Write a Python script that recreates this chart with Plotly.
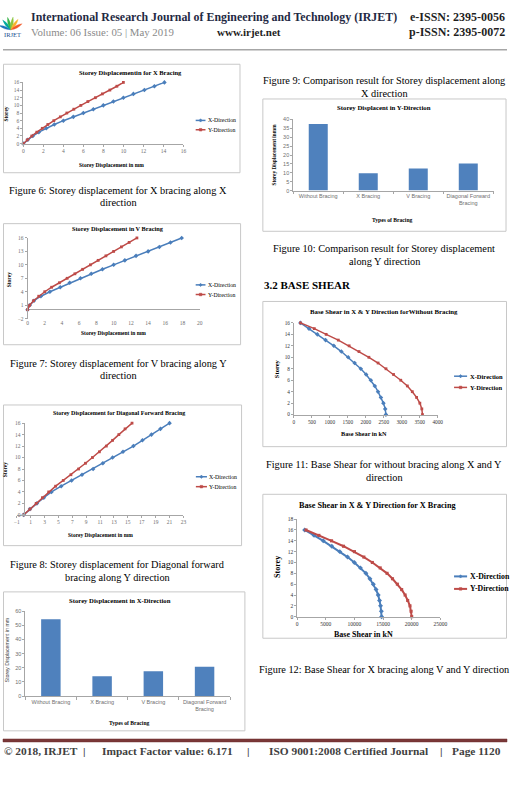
import math
import plotly.graph_objects as go

W, H = 514, 805
SERIF = "Liberation Serif"
SANS = "Liberation Sans"
BLUE = "#4A7EBB"
RED = "#BE4B48"
BAR = "#4F81BD"
TICK_GRAY = "#6F6F6F"
AXIS_LINE = "#A6A6A6"
BOX = "#C8C8C8"

# ---------------- data ----------------
storeys = list(range(17))

# Fig 6: storey displacement (mm), X bracing
fig6_xdir = [0, 0.45, 0.95, 1.55, 2.3, 3.1, 4.0, 5.0, 6.0, 7.0, 8.0, 9.0, 10.0, 11.0, 12.1, 13.1, 14.1]
fig6_ydir = [0, 0.4, 0.85, 1.35, 1.9, 2.45, 3.05, 3.7, 4.35, 5.05, 5.75, 6.45, 7.2, 7.9, 8.65, 9.35, 10.0]

# Fig 7: storey displacement (mm), V bracing
fig7_xdir = [0, 0.26, 0.75, 1.55, 2.6, 3.8, 4.9, 6.15, 7.4, 8.7, 10.0, 11.3, 12.6, 14.0, 15.3, 16.6, 17.9]
fig7_ydir = [0, 0.25, 0.7, 1.3, 2.0, 2.8, 3.7, 4.6, 5.5, 6.4, 7.3, 8.2, 9.1, 10.0, 10.9, 11.8, 12.7]

# Fig 8: storey displacement (mm), diagonal forward bracing
fig8_xdir = [0, 0.9, 1.9, 2.9, 4.0, 5.4, 6.9, 8.4, 10.0, 11.4, 12.8, 14.3, 15.8, 17.1, 18.4, 19.7, 21.0]
fig8_ydir = [0, 0.9, 1.8, 2.7, 3.6, 4.6, 5.7, 6.8, 7.9, 8.9, 9.9, 10.9, 11.9, 12.8, 13.7, 14.6, 15.6]

# Fig 9 / 10: comparison bars
bracing_types = ["Without Bracing", "X Bracing", "V Bracing", "Diagonal Forward<br>Bracing"]
disp_x_dir = [54.2, 14.0, 17.5, 20.8]
disp_y_dir = [37.5, 9.7, 12.4, 15.2]

# Fig 11: base shear (kN), without bracing
bs_wo_xdir = [2560, 2540, 2490, 2420, 2340, 2250, 2140, 2010, 1860, 1690, 1510, 1320, 1110, 880, 650, 420, 180]
bs_wo_ydir = [3577, 3559, 3504, 3413, 3294, 3156, 2973, 2772, 2562, 2342, 2086, 1811, 1537, 1235, 897, 567, 183]

# Fig 12: base shear (kN), X bracing
bs_xb_xdir = [14750, 14700, 14560, 14380, 14150, 13780, 13300, 12700, 12000, 11050, 9990, 8800, 7450, 6050, 4550, 2950, 1310]
bs_xb_ydir = [20000, 19900, 19700, 19300, 18850, 18250, 17500, 16650, 15700, 14500, 13130, 11650, 10000, 8100, 6000, 3800, 1540]


# ---------------- helpers ----------------
def px(x):
    return x / W


def py(y):
    return 1 - y / H


annotations = []
shapes = []
layout_axes = {}


def text(x, y, s, size, color="#000000", family=SERIF, bold=False, xanchor="center", angle=0):
    annotations.append(dict(
        x=px(x), y=py(y), xref="paper", yref="paper",
        text=f"<b>{s}</b>" if bold else s, showarrow=False,
        xanchor=xanchor, yanchor="middle", textangle=angle,
        font=dict(family=family, size=size, color=color), borderpad=0))


def rect(x0, top, x1, bottom, line=BOX, fill="rgba(0,0,0,0)", width=1):
    shapes.append(dict(type="rect", xref="paper", yref="paper",
                       x0=px(x0), x1=px(x1), y0=py(bottom), y1=py(top),
                       line=dict(color=line, width=width), fillcolor=fill))


def hline(x0, x1, y, color, width):
    shapes.append(dict(type="line", xref="paper", yref="paper",
                       x0=px(x0), x1=px(x1), y0=py(y), y1=py(y),
                       line=dict(color=color, width=width)))


def legend_entry(x0, x1, y, color, symbol, label, size, bold=False, lw=1.5):
    hline(x0, x1, y, color, lw)
    cx = (x0 + x1) / 2
    r = 1.7
    if symbol == "diamond":
        path = (f"M{px(cx - r)},{py(y)} L{px(cx)},{py(y - r)} "
                f"L{px(cx + r)},{py(y)} L{px(cx)},{py(y + r)} Z")
        shapes.append(dict(type="path", xref="paper", yref="paper", path=path,
                           fillcolor=color, line=dict(color=color, width=0.5)))
    else:
        rect(cx - 1.3, y - 1.3, cx + 1.3, y + 1.3, line=color, fill=color, width=0.5)
    text(x1 + 1.5, y, label, size, bold=bold, xanchor="left")


def axref(i, letter):
    return letter if i == 1 else f"{letter}{i}"


def axkey(i, letter):
    return f"{letter}axis" if i == 1 else f"{letter}axis{i}"


def num_axes(i, xdom, ydom, xrange, yrange, xdtick, ydtick, xtick0=None, ytick0=None,
             tfsize=5.5, tfcolor=TICK_GRAY, yzero=False, xline=True, yposition=None):
    tf = dict(family=SERIF, size=tfsize, color=tfcolor)
    xa = dict(domain=[px(xdom[0]), px(xdom[1])], range=xrange, autorange=False,
              tickmode="linear", dtick=xdtick, tick0=xtick0 if xtick0 is not None else xrange[0],
              tickformat="d", tickangle=0,
              showline=xline, linecolor=AXIS_LINE, linewidth=0.8,
              ticks="outside" if xline else "", ticklen=2, tickcolor=AXIS_LINE,
              showgrid=False, zeroline=False, tickfont=tf, anchor=axref(i, "y"),
              fixedrange=True)
    ya = dict(domain=[py(ydom[1]), py(ydom[0])], range=yrange, autorange=False,
              tickmode="linear", dtick=ydtick, tick0=ytick0 if ytick0 is not None else yrange[0],
              tickformat="d",
              showline=True, linecolor=AXIS_LINE, linewidth=0.8,
              ticks="outside", ticklen=2, tickcolor=AXIS_LINE,
              showgrid=False, zeroline=yzero, zerolinecolor=AXIS_LINE, zerolinewidth=0.8,
              tickfont=tf, anchor=axref(i, "x"), fixedrange=True)
    if yposition is not None:
        ya["anchor"] = "free"
        ya["position"] = px(yposition)
    layout_axes[axkey(i, "x")] = xa
    layout_axes[axkey(i, "y")] = ya


def bar_axes(i, xdom, ydom, yrange, ydtick):
    tf = dict(family=SANS, size=5.5, color=TICK_GRAY)
    layout_axes[axkey(i, "x")] = dict(
        domain=[px(xdom[0]), px(xdom[1])], type="category", range=[-0.5, 3.5],
        showline=True, linecolor=AXIS_LINE, linewidth=0.8, ticks="outside",
        tickson="boundaries", ticklen=3, tickcolor=AXIS_LINE, showgrid=False,
        tickangle=0, tickfont=tf, anchor=axref(i, "y"), fixedrange=True)
    layout_axes[axkey(i, "y")] = dict(
        domain=[py(ydom[1]), py(ydom[0])], range=yrange, autorange=False,
        tickmode="linear", tick0=0, dtick=ydtick, showline=True, linecolor=AXIS_LINE,
        linewidth=0.8, ticks="outside", ticklen=2, tickcolor=AXIS_LINE,
        showgrid=False, zeroline=False, tickfont=tf, anchor=axref(i, "x"), fixedrange=True)


fig = go.Figure()


def add_pair(i, xs_blue, xs_red, ys, lw=1.5, ms=3.5):
    fig.add_trace(go.Scatter(x=xs_blue, y=ys, mode="lines+markers", name="X-Direction",
                             line=dict(color=BLUE, width=lw),
                             marker=dict(symbol="diamond", size=ms, color=BLUE),
                             xaxis=axref(i, "x"), yaxis=axref(i, "y"), cliponaxis=False))
    fig.add_trace(go.Scatter(x=xs_red, y=ys, mode="lines+markers", name="Y-Direction",
                             line=dict(color=RED, width=lw),
                             marker=dict(symbol="square", size=ms - 0.7, color=RED),
                             xaxis=axref(i, "x"), yaxis=axref(i, "y"), cliponaxis=False))


# ---------------- Chart 1: Fig 6 ----------------
num_axes(1, (20.7, 184), (80, 141.7), [0, 16], [0, 16], 2, 2)
add_pair(1, fig6_xdir, fig6_ydir, storeys)
rect(0.5, 61.7, 241.7, 171)
text(130, 70, "Storey Displacementin for X Bracing", 6.5, bold=True)
text(3.5, 112, "Storey", 5.5, bold=True, angle=-90)
text(111, 163, "Storey Displacement in mm", 5.5, bold=True)
legend_entry(196.5, 206.5, 118.3, BLUE, "diamond", "X-Direction", 5.8)
legend_entry(196.5, 206.5, 127.7, RED, "square", "Y-Direction", 5.8)
text(117.5, 189, "Figure 6: Storey displacement for X bracing along X", 10.3)
text(117.5, 201.5, "direction", 10.3)

# ---------------- Chart 2: Fig 7 ----------------
num_axes(2, (25, 200.7), (236.7, 318), [0, 20], [-2, 16], 2, 3, yzero=True, xline=False)
add_pair(2, fig7_xdir, fig7_ydir, storeys)
rect(0.5, 222.3, 242.3, 344.3)
text(117, 227.5, "Storey Displacement in V Bracing", 6.3, bold=True)
text(6.5, 279, "Storey", 5.5, bold=True, angle=-90)
text(113, 332.7, "Storey Displacement in mm", 5.5, bold=True)
legend_entry(196.5, 206.5, 284, BLUE, "diamond", "X-Direction", 5.8)
legend_entry(196.5, 206.5, 293.7, RED, "square", "Y-Direction", 5.8)
text(117.5, 363, "Figure 7: Storey displacement for V bracing along Y", 10.3)
text(117.5, 375.5, "direction", 10.3)

# ---------------- Chart 3: Fig 8 ----------------
num_axes(3, (14, 184), (423.3, 515.7), [-1, 23], [0, 16], 2, 2, yposition=21)
add_pair(3, fig8_xdir, fig8_ydir, storeys)
rect(0.5, 405, 243.3, 546.7)
text(118, 413, "Storey Displacement for Diagonal Forward Bracing", 6.0, bold=True)
text(2.8, 470, "Storey", 5.5, bold=True, angle=-90)
text(99, 536, "Storey Displacement in mm", 5.5, bold=True)
legend_entry(196.7, 208, 477.3, BLUE, "diamond", "X-Direction", 5.8)
legend_entry(196.7, 208, 487.3, RED, "square", "Y-Direction", 5.8)
text(117, 566, "Figure 8: Storey displacement for Diagonal forward", 10.3)
text(117, 579, "bracing along Y direction", 10.3)

# ---------------- Chart 4: X-direction bars ----------------
bar_axes(4, (22.7, 231.7), (612.7, 698.3), [0, 60], 10)
fig.add_trace(go.Bar(x=bracing_types, y=disp_x_dir, marker=dict(color=BAR, line=dict(width=0)),
                     width=0.38, xaxis="x4", yaxis="y4"))
rect(0.5, 593.3, 246.7, 733.3)
text(119.5, 602, "Storey Displacement in X-Direction", 6.7, bold=True)
text(4.5, 652, "Storey Displacement in mm", 5.3, family=SANS, color="#404040", angle=-90)
text(128.7, 725, "Types of Bracing", 5.6, bold=True)

# ---------------- Chart 5: Fig 9 / Y-direction bars ----------------
text(389, 78.5, "Figure 9: Comparison result for Storey displacement along", 10.3)
text(389, 90.7, "X direction", 10.3)
bar_axes(5, (296, 500), (117.3, 189), [0, 40], 5)
fig.add_trace(go.Bar(x=bracing_types, y=disp_y_dir, marker=dict(color=BAR, line=dict(width=0)),
                     width=0.38, xaxis="x5", yaxis="y5"))
rect(265, 96.7, 513, 230)
text(389, 105.7, "Storey Displacent in Y-Direction", 6.8, bold=True)
text(276, 153, "Storey Displacement inmm", 5.3, bold=True, angle=-90)
text(397, 219, "Types of Bracing", 5.6, bold=True)
text(389, 247, "Figure 10: Comparison result for Storey displacement", 10.3)
text(389, 260, "along Y direction", 10.3)

# ---------------- Section heading ----------------
text(265, 284, "3.2 BASE SHEAR", 11, bold=True, xanchor="left")

# ---------------- Chart 6: Fig 11 ----------------
num_axes(6, (296.7, 443.3), (322.3, 414.7), [0, 4000], [0, 16], 500, 2,
         tfsize=5.3, tfcolor="#333333")
add_pair(6, bs_wo_xdir, bs_wo_ydir, storeys)
rect(265, 300.7, 513.5, 447)
text(389, 310.7, "Base Shear in X &amp; Y Direction forWithout Bracing", 6.8, bold=True)
text(278.3, 368, "Storey", 6.5, bold=True, angle=-90)
text(368, 434, "Base Shear in kN", 6.2, bold=True)
legend_entry(460, 473.3, 376, BLUE, "diamond", "X-Direction", 6.5, bold=True)
legend_entry(460, 473.3, 387.3, RED, "square", "Y-Direction", 6.5, bold=True)
text(389, 465, "Figure 11: Base Shear for without bracing along X and Y", 10.3)
text(389, 478, "direction", 10.3)

# ---------------- Chart 7: Fig 12 ----------------
num_axes(7, (300, 446), (520, 618.3), [0, 25000], [0, 18], 5000, 2,
         tfsize=5.5, tfcolor="#333333")
add_pair(7, bs_xb_xdir, bs_xb_ydir, storeys, lw=2, ms=3.8)
rect(265, 495, 513.5, 640)
text(381.7, 506, "Base Shear in X &amp; Y Direction for X Bracing", 8.2, bold=True)
text(279.3, 568.3, "Storey", 8, bold=True, angle=-90)
text(368, 636.5, "Base Shear in kN", 8, bold=True)
legend_entry(460, 473.3, 577.7, BLUE, "diamond", "X-Direction", 7.8, bold=True, lw=2)
legend_entry(460, 473.3, 590.3, RED, "square", "Y-Direction", 7.8, bold=True, lw=2)
text(389, 672, "Figure 12: Base Shear for X bracing along V and Y direction", 10.3)

# ---------------- Page header ----------------
leaf_colors = ["#1B75BC", "#00A99D", "#39B54A", "#8DC63F", "#F7B52C", "#F15A29"]
leaf_angles = [-160, -130, -105, -80, -55, -28]
bx, by = 8.0, 27.0
for ang, col in zip(leaf_angles, leaf_colors):
    a = math.radians(ang)
    L = 13.0
    tx, ty = bx + L * math.cos(a), by + L * math.sin(a)
    mx, my = (bx + tx) / 2, (by + ty) / 2
    nx, ny = -math.sin(a) * 2.6, math.cos(a) * 2.6
    path = (f"M{px(bx)},{py(by)} Q{px(mx + nx)},{py(my + ny)} {px(tx)},{py(ty)} "
            f"Q{px(mx - nx)},{py(my - ny)} {px(bx)},{py(by)} Z")
    shapes.append(dict(type="path", xref="paper", yref="paper", path=path,
                       fillcolor=col, line=dict(color=col, width=0.3)))
text(0.5, 31.5, "IRJET", 6.5, color="#1B4F8F", xanchor="left")

text(28, 14, "International Research Journal of Engineering and Technology (IRJET)", 11.9,
     color="#1F2A44", bold=True, xanchor="left")
text(513, 14, "e-ISSN: 2395-0056", 12, color="#1F1F1F", bold=True, xanchor="right")
text(28, 29.5, "Volume: 06 Issue: 05 | May 2019", 10.8, color="#8A8A8A", xanchor="left")
text(217, 29.5, "www.irjet.net", 11, color="#1F1F1F", bold=True, xanchor="left")
text(513, 29.5, "p-ISSN: 2395-0072", 12, color="#1F1F1F", bold=True, xanchor="right")
hline(0, 514, 47, "#A6A6A6", 1.5)

# ---------------- Page footer ----------------
rect(0, 741.5, 514, 744.5, line="#6E2E2E", fill="#7A3838", width=0.5)
FOOT = "#404040"
FS = 11.4
text(0.5, 754, "© 2018, IRJET", FS, color=FOOT, bold=True, xanchor="left")
text(83, 754, "|", FS, color=FOOT, bold=True)
text(100, 754, "Impact Factor value: 6.171", FS, color=FOOT, bold=True, xanchor="left")
text(250, 754, "|", FS, color=FOOT, bold=True)
text(270, 754, "ISO 9001:2008 Certified Journal", FS, color=FOOT, bold=True, xanchor="left")
text(447, 754, "|", FS, color=FOOT, bold=True)
text(509, 754, "Page 1120", FS, color=FOOT, bold=True, xanchor="right")

fig.update_layout(
    width=W, height=H, margin=dict(l=0, r=0, t=0, b=0, pad=0),
    paper_bgcolor="white", plot_bgcolor="white", showlegend=False,
    annotations=annotations, shapes=shapes, **layout_axes)

fig.write_html("out.html")
